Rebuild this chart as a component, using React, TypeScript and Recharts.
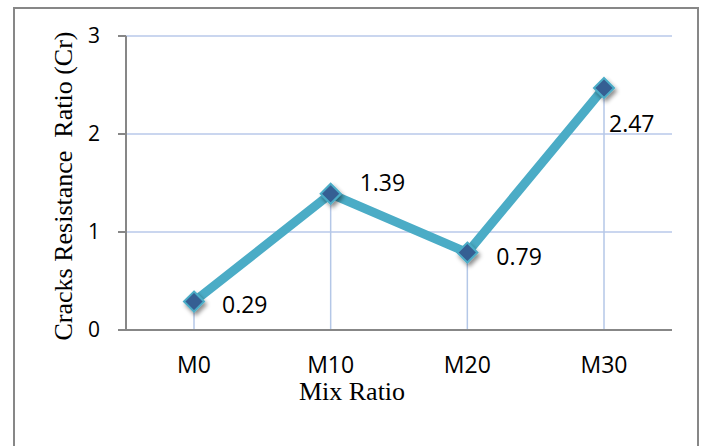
import { LineChart, Line, XAxis, YAxis, CartesianGrid, ReferenceLine, LabelList, Label } from "recharts"

const mixes = ["M0", "M10", "M20", "M30"]
const crValues = [0.29, 1.39, 0.79, 2.47]
const yTicks = [0, 1, 2, 3]

const data = mixes.map((mix, i) => ({ mix, cr: crValues[i] }))

const sans = "'Open Sans', sans-serif"
const serif = "'Liberation Serif', 'Times New Roman', serif"
const axisGray = "#878787"

// where each value label sits relative to its marker
const labelShift = [
  [28, 2],
  [29, -12],
  [29, 3],
  [5, 35],
]

function Diamond(props: any) {
  const { cx, cy, index } = props
  if (cx == null || cy == null) return null
  const r = 10
  return (
    <g key={`d-${index}`}>
      {index === 0 && (
        <defs>
          <filter id="mk-shadow" x="-50%" y="-50%" width="200%" height="200%">
            <feDropShadow dx="2" dy="3" stdDeviation="2" floodColor="#000" floodOpacity="0.45" />
          </filter>
        </defs>
      )}
      <polygon
        points={`${cx},${cy - r} ${cx + r},${cy} ${cx},${cy + r} ${cx - r},${cy}`}
        fill="#355f93"
        stroke="#4bacc6"
        strokeWidth={2}
        filter="url(#mk-shadow)"
      />
    </g>
  )
}

function ValueLabel(props: any) {
  const { x, y, value, index } = props
  const [dx, dy] = labelShift[index] || [10, 0]
  return (
    <text
      x={x + dx}
      y={y + dy}
      textAnchor="start"
      dominantBaseline="central"
      fontFamily={sans}
      fontSize={23}
      fill="#000"
    >
      {value}
    </text>
  )
}

function YTitle(props: any) {
  const { viewBox } = props
  const cx = 72
  const cy = viewBox.y + viewBox.height / 2 + 3
  return (
    <text
      x={cx}
      y={cy}
      transform={`rotate(-90, ${cx}, ${cy})`}
      textAnchor="middle"
      fontFamily={serif}
      fontSize={26}
      fill="#000"
    >
      Cracks Resistance {"\u00a0"}Ratio (Cr)
    </text>
  )
}

function XTitle() {
  return (
    <text x={352} y={400} textAnchor="middle" fontFamily={serif} fontSize={26} fill="#000">
      Mix Ratio
    </text>
  )
}

export default function App() {
  return (
    <div
      style={{
        position: "absolute",
        left: 0,
        top: 0,
        width: 705,
        height: 446,
        overflow: "hidden",
        background: "#fff",
      }}
    >
      <div
        style={{
          position: "absolute",
          left: 13,
          top: 7,
          width: 686,
          height: 470,
          border: `2px solid ${axisGray}`,
          boxSizing: "border-box",
        }}
      />
      <LineChart
        width={705}
        height={446}
        data={data}
        margin={{ top: 36, right: 33, bottom: 86, left: 66 }}
        style={{ position: "absolute", left: 0, top: 0 }}
      >
        <CartesianGrid vertical={false} stroke="#b9c9ea" strokeWidth={1.5} />
        <XAxis
          dataKey="mix"
          height={30}
          padding={{ left: 68, right: 68 }}
          tickLine={false}
          tickSize={0}
          tickMargin={27}
          axisLine={{ stroke: axisGray, strokeWidth: 2 }}
          tick={{ fontFamily: sans, fontSize: 23, fill: "#000" }}
          interval={0}
        >
          <Label content={<XTitle />} />
        </XAxis>
        <YAxis
          width={60}
          domain={[0, 3]}
          ticks={yTicks}
          tickSize={8}
          tickMargin={18}
          tickLine={{ stroke: axisGray, strokeWidth: 2 }}
          axisLine={{ stroke: axisGray, strokeWidth: 2 }}
          tick={{ fontFamily: sans, fontSize: 21, fill: "#000" }}
        >
          <Label content={<YTitle />} />
        </YAxis>
        {data.map((d) => (
          <ReferenceLine
            key={d.mix}
            segment={[
              { x: d.mix, y: 0 },
              { x: d.mix, y: d.cr },
            ]}
            stroke="#b4c7e7"
            strokeWidth={1.5}
          />
        ))}
        <Line
          type="linear"
          dataKey="cr"
          stroke="#4bacc6"
          strokeWidth={9}
          strokeLinejoin="round"
          dot={<Diamond />}
          activeDot={false}
          isAnimationActive={false}
        >
          <LabelList dataKey="cr" content={<ValueLabel />} />
        </Line>
      </LineChart>
    </div>
  )
}
